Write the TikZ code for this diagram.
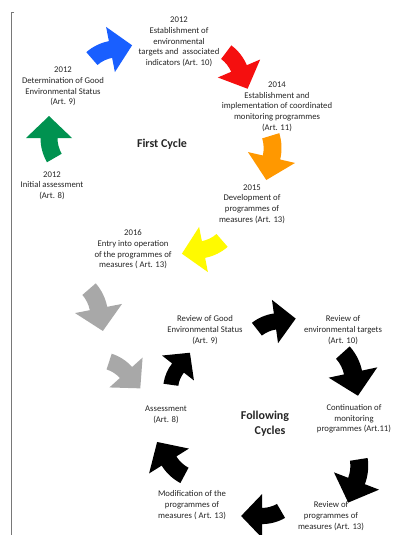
\documentclass[tikz,border=0pt]{standalone}
\usepackage{fontspec}
\setmainfont{Carlito}
\definecolor{cgreen}{RGB}{0,146,80}
\definecolor{cblue}{RGB}{25,95,255}
\definecolor{cred}{RGB}{245,15,15}
\definecolor{corange}{RGB}{255,152,0}
\definecolor{cyellow}{RGB}{255,250,0}
\definecolor{cgray}{RGB}{168,168,168}
\definecolor{cline}{RGB}{120,120,120}
% #1 x, #2 y, #3 direction angle, #4 scale, #5 colour
\newcommand{\blockarrow}[5]{%
  \fill[#5, shift={(#1,#2)}, rotate=#3, scale=#4]
    (22,0) -- (0,23) -- (0,8.5)
    arc[start angle=90, end angle=120, radius=48.5]
    -- ++(300:17)
    arc[start angle=120, end angle=90, radius=31.5]
    -- (0,-8.5) -- (0,-23) -- cycle;}
\begin{document}
\begin{tikzpicture}[x=1pt,y=1pt,
  lbl/.style={font=\fontsize{8.7}{10.7}\selectfont, align=center, inner sep=0pt, text=black!85},
  ttl/.style={font=\fontsize{12}{15}\selectfont\bfseries, align=center, inner sep=0pt, text=black!85}]
\useasboundingbox (0,0) rectangle (394,-535);
\clip (0,0) rectangle (394,-535);
\fill[white] (0,0) rectangle (394,-535);
\coordinate (ltop) at (14,-12);
\coordinate (lcorner) at (11.5,-12);
\coordinate (lbottom) at (11.5,-535);
\draw[cline, line width=0.8pt] (ltop) -- (lcorner) -- (lbottom);

% first cycle arrows
\blockarrow{49}{-138}{90}{1.0}{cgreen}
\blockarrow{110.5}{-49.5}{11}{1.0}{cblue}
\blockarrow{239}{-68.5}{-67}{1.0}{cred}
\blockarrow{271.5}{-157.5}{-103}{1.05}{corange}
\blockarrow{203.5}{-249.5}{191}{1.0}{cyellow}
\blockarrow{98.5}{-308.5}{-79}{1.04}{cgray}
\blockarrow{126}{-372.5}{-48}{0.97}{cgray}
% following cycles arrows
\blockarrow{178}{-368}{52}{0.88}{black}
\blockarrow{275}{-321.5}{8}{0.95}{black}
\blockarrow{353}{-372.5}{-78}{1.08}{black}
\blockarrow{356.5}{-481}{-111}{1.05}{black}
\blockarrow{262}{-516}{180}{0.95}{black}
\blockarrow{169}{-461}{122}{1.02}{black}

% labels
\node[lbl] (targets) at (179,-42) {2012\\Establishment of\\environmental\\targets and\ \ associated\\indicators (Art. 10)};
\node[lbl] (ges) at (63,-86.5) {2012\\Determination of Good\\Environmental Status\\(Art. 9)};
\node[lbl] (initial) at (52,-185.5) {2012\\Initial assessment\\(Art. 8)};
\node[lbl] (monitor) at (277,-106.5) {2014\\Establishment and\\implementation of coordinated\\monitoring programmes\\(Art. 11)};
\node[lbl] (develop) at (252,-204) {2015\\Development of\\programmes of\\measures (Art. 13)};
\node[lbl] (entry) at (133,-249.5) {2016\\Entry into operation\\of the programmes of\\measures ( Art. 13)};
\node[ttl] (first) at (162,-144) {First Cycle};

\node[lbl] (rges) at (205,-330) {Review of Good\\Environmental Status\\(Art. 9)};
\node[lbl] (rtargets) at (343,-330) {Review of\\environmental targets\\(Art. 10)};
\node[lbl] (cont) at (354,-419) {Continuation of\\monitoring\\programmes (Art.11)};
\node[lbl] (rprog) at (331,-516) {Review of\\programmes of\\measures (Art. 13)};
\node[lbl] (modif) at (192,-505) {Modification of the\\programmes of\\measures ( Art. 13)};
\node[lbl] (assess) at (166,-415) {Assessment\\(Art. 8)};
\node[ttl] (following) at (265,-424) {Following\\\hspace*{10pt}Cycles};
\end{tikzpicture}
\end{document}
